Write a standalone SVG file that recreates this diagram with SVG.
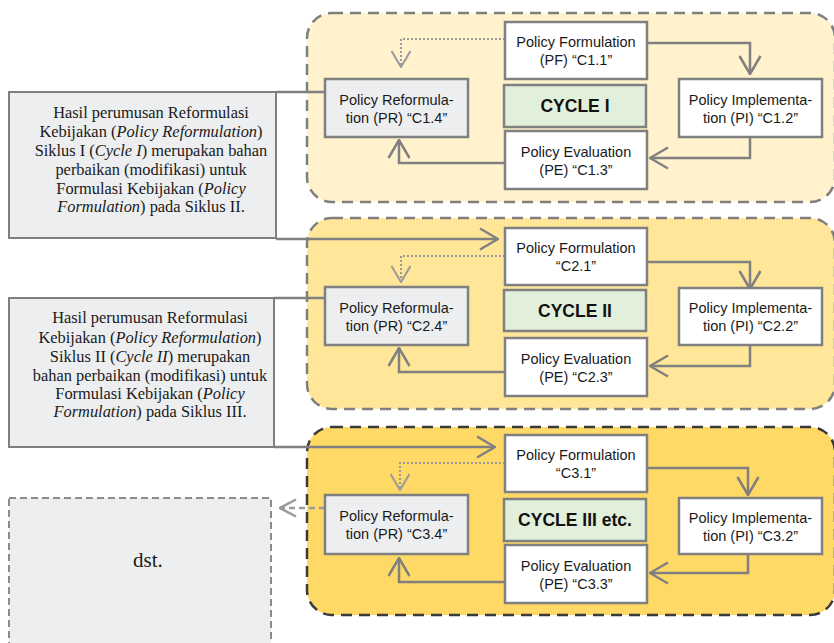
<svg xmlns="http://www.w3.org/2000/svg" width="834" height="643" viewBox="0 0 834 643">
  <style>
    .cyc { stroke-width: 2.5; stroke-dasharray: 11 7; }
    .c1 { fill: #FFF2CC; stroke: #7F7F7F; }
    .c2 { fill: #FFE699; stroke: #7F7F7F; }
    .c3 { fill: #FFD966; stroke: #3A3A3A; }
    .node { fill: #FFFFFF; stroke: #808080; stroke-width: 2.5; }
    .pr { fill: #EDEEF0; }
    .cyclebox { fill: #E2EFDA; stroke: #808080; stroke-width: 2.5; }
    .note { fill: #EDEEF0; stroke: #7F7F7F; stroke-width: 2; }
    .dst { fill: #EDEEF0; stroke: #8C8C8C; stroke-width: 2; stroke-dasharray: 7 4; }
    .lbl { font-family: "Liberation Sans", Arial, sans-serif; font-size: 14.5px; fill: #1A1A1A; text-anchor: middle; }
    .cyc-lbl { font-family: "Liberation Sans", Arial, sans-serif; font-size: 17.5px; font-weight: bold; fill: #111111; text-anchor: middle; }
    .txt { font-family: "Liberation Serif", "Times New Roman", serif; font-size: 16.4px; fill: #1A1A1A; text-anchor: middle; }
    .big { font-size: 21px; }
    .wire { fill: none; stroke: #808080; stroke-width: 2.5; }
    .dot { fill: none; stroke: #9A9A9A; stroke-width: 2; stroke-dasharray: 2 2; }
    .dash { fill: none; stroke: #9A9A9A; stroke-width: 2.5; stroke-dasharray: 6 4; }
  </style>
  <defs>
    <marker id="arr" viewBox="0 0 20 24" refX="19" refY="12" markerWidth="20" markerHeight="24" markerUnits="userSpaceOnUse" orient="auto">
      <path d="M1,1.5 L19,12 L1,22.5" fill="none" stroke="#808080" stroke-width="2.5"/>
    </marker>
    <marker id="arrDot" viewBox="0 0 18 22" refX="17" refY="11" markerWidth="18" markerHeight="22" markerUnits="userSpaceOnUse" orient="auto">
      <path d="M1,1.5 L17,11 L1,20.5" fill="none" stroke="#9A9A9A" stroke-width="2"/>
    </marker>
    <marker id="arrDash" viewBox="0 0 18 20" refX="17" refY="10" markerWidth="18" markerHeight="20" markerUnits="userSpaceOnUse" orient="auto">
      <path d="M1,1.5 L17,10 L1,18.5" fill="none" stroke="#9A9A9A" stroke-width="2.5"/>
    </marker>
  </defs>

  <!-- cycle containers -->
  <g id="cycle-1-area"><rect class="cyc c1" x="307" y="13" width="528" height="189" rx="25"/></g>
  <g id="cycle-2-area"><rect class="cyc c2" x="307" y="218" width="528" height="191" rx="25"/></g>
  <g id="cycle-3-area"><rect class="cyc c3" x="307" y="427" width="528" height="188" rx="25"/></g>

  <!-- connectors -->
  <g id="connectors">
    <!-- cycle I -->
    <path class="dot" d="M505,39 H401 V67" marker-end="url(#arrDot)"/>
    <path class="wire" d="M647,43 H750 V74" marker-end="url(#arr)"/>
    <path class="wire" d="M750,137 V158 H650" marker-end="url(#arr)"/>
    <path class="wire" d="M505,163 H399 V140" marker-end="url(#arr)"/>
    <!-- cycle II -->
    <path class="dot" d="M505,256 H401 V282" marker-end="url(#arrDot)"/>
    <path class="wire" d="M647,262 H750 V289" marker-end="url(#arr)"/>
    <path class="wire" d="M750,345 V366 H650" marker-end="url(#arr)"/>
    <path class="wire" d="M505,372 H399 V348" marker-end="url(#arr)"/>
    <!-- cycle III -->
    <path class="dot" d="M505,463 H400 V490" marker-end="url(#arrDot)"/>
    <path class="wire" d="M647,468 H748 V495" marker-end="url(#arr)"/>
    <path class="wire" d="M748,554 V573 H650" marker-end="url(#arr)"/>
    <path class="wire" d="M505,582 H399 V558" marker-end="url(#arr)"/>
    <!-- notes to cycles -->
    <path class="wire" d="M276,92 H325"/>
    <path class="wire" d="M276,239 H498" marker-end="url(#arr)"/>
    <path class="wire" d="M274,298 H325"/>
    <path class="wire" d="M274,447 H495" marker-end="url(#arr)"/>
    <path class="dash" d="M325,508 H280" marker-end="url(#arrDash)"/>
  </g>

  <!-- cycle I nodes -->
  <g id="pf1"><rect class="node" x="505" y="22" width="142" height="57"/>
    <text class="lbl" x="576" y="47">Policy Formulation</text><text class="lbl" x="576" y="65">(PF) “C1.1”</text></g>
  <g id="pr1"><rect class="node pr" x="325" y="79" width="143" height="58"/>
    <text class="lbl" x="396.5" y="104.5">Policy Reformula-</text><text class="lbl" x="396.5" y="122.5">tion (PR) “C1.4”</text></g>
  <g id="cycle1"><rect class="cyclebox" x="504" y="85" width="142" height="42"/>
    <text class="cyc-lbl" x="575" y="112">CYCLE I</text></g>
  <g id="pi1"><rect class="node" x="679" y="79" width="143" height="58"/>
    <text class="lbl" x="750.5" y="104.5">Policy Implementa-</text><text class="lbl" x="750.5" y="122.5">tion (PI) “C1.2”</text></g>
  <g id="pe1"><rect class="node" x="505" y="131" width="142" height="58"/>
    <text class="lbl" x="576" y="156.5">Policy Evaluation</text><text class="lbl" x="576" y="174.5">(PE) “C1.3”</text></g>

  <!-- cycle II nodes -->
  <g id="pf2"><rect class="node" x="505" y="228" width="142" height="57"/>
    <text class="lbl" x="576" y="253">Policy Formulation</text><text class="lbl" x="576" y="271">“C2.1”</text></g>
  <g id="pr2"><rect class="node pr" x="325" y="287" width="143" height="58"/>
    <text class="lbl" x="396.5" y="312.5">Policy Reformula-</text><text class="lbl" x="396.5" y="330.5">tion (PR) “C2.4”</text></g>
  <g id="cycle2"><rect class="cyclebox" x="504" y="290" width="142" height="41"/>
    <text class="cyc-lbl" x="575" y="317">CYCLE II</text></g>
  <g id="pi2"><rect class="node" x="679" y="288" width="143" height="57"/>
    <text class="lbl" x="750.5" y="313">Policy Implementa-</text><text class="lbl" x="750.5" y="331">tion (PI) “C2.2”</text></g>
  <g id="pe2"><rect class="node" x="505" y="338" width="142" height="58"/>
    <text class="lbl" x="576" y="363.5">Policy Evaluation</text><text class="lbl" x="576" y="381.5">(PE) “C2.3”</text></g>

  <!-- cycle III nodes -->
  <g id="pf3"><rect class="node" x="505" y="435" width="142" height="57"/>
    <text class="lbl" x="576" y="460">Policy Formulation</text><text class="lbl" x="576" y="478">“C3.1”</text></g>
  <g id="pr3"><rect class="node pr" x="325" y="495" width="143" height="59"/>
    <text class="lbl" x="396.5" y="521">Policy Reformula-</text><text class="lbl" x="396.5" y="539">tion (PR) “C3.4”</text></g>
  <g id="cycle3"><rect class="cyclebox" x="504" y="499" width="142" height="42"/>
    <text class="cyc-lbl" x="575" y="526">CYCLE III etc.</text></g>
  <g id="pi3"><rect class="node" x="679" y="498" width="143" height="56"/>
    <text class="lbl" x="750.5" y="523">Policy Implementa-</text><text class="lbl" x="750.5" y="541">tion (PI) “C3.2”</text></g>
  <g id="pe3"><rect class="node" x="505" y="545" width="142" height="58"/>
    <text class="lbl" x="576" y="570.5">Policy Evaluation</text><text class="lbl" x="576" y="588.5">(PE) “C3.3”</text></g>

  <!-- notes -->
  <g id="note1"><rect class="note" x="9" y="92" width="267" height="146"/>
    <text class="txt" x="151" y="118">Hasil perumusan Reformulasi</text>
    <text class="txt" x="151" y="137">Kebijakan (<tspan font-style="italic">Policy Reformulation</tspan>)</text>
    <text class="txt" x="151" y="156">Siklus I (<tspan font-style="italic">Cycle I</tspan>) merupakan bahan</text>
    <text class="txt" x="151" y="175">perbaikan (modifikasi) untuk</text>
    <text class="txt" x="151" y="194">Formulasi Kebijakan (<tspan font-style="italic">Policy</tspan></text>
    <text class="txt" x="151" y="212"><tspan font-style="italic">Formulation</tspan>) pada Siklus II.</text></g>
  <g id="note2"><rect class="note" x="9" y="298" width="265" height="149"/>
    <text class="txt" x="150" y="323">Hasil perumusan Reformulasi</text>
    <text class="txt" x="150" y="343">Kebijakan (<tspan font-style="italic">Policy Reformulation</tspan>)</text>
    <text class="txt" x="150" y="362">Siklus II (<tspan font-style="italic">Cycle II</tspan>) merupakan</text>
    <text class="txt" x="150" y="381">bahan perbaikan (modifikasi) untuk</text>
    <text class="txt" x="150" y="399">Formulasi Kebijakan (<tspan font-style="italic">Policy</tspan></text>
    <text class="txt" x="150" y="417"><tspan font-style="italic">Formulation</tspan>) pada Siklus III.</text></g>
  <g id="dst"><rect class="dst" x="9" y="498" width="262" height="160"/>
    <text class="txt big" x="148" y="567">dst.</text></g>
</svg>
